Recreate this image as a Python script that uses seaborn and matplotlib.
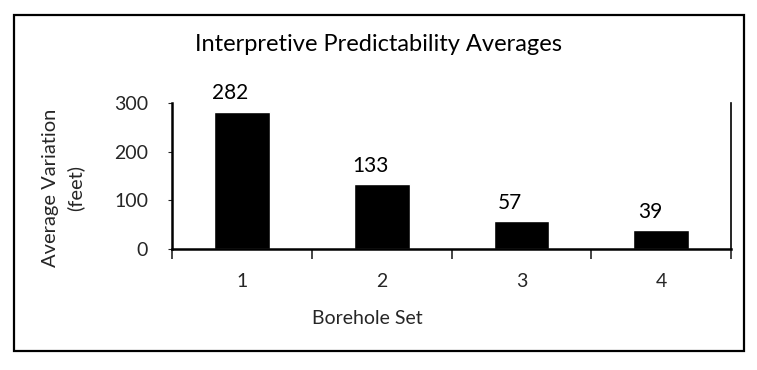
import matplotlib
matplotlib.use("Agg")
import matplotlib.pyplot as plt
import seaborn as sns
import pandas as pd
from matplotlib.patches import Rectangle
from matplotlib.ticker import FixedLocator

# Data
borehole_sets = ["1", "2", "3", "4"]
avg_variation = [282, 133, 57, 39]
y_ticks = [0, 100, 200, 300]

sns.set_theme(style="white")
plt.rcParams["font.family"] = ["Lato", "DejaVu Sans"]

df = pd.DataFrame({"set": borehole_sets, "variation": avg_variation})

fig = plt.figure(figsize=(7.57, 3.70), dpi=100)
ax = fig.add_axes([0.227, 0.327, 0.739, 0.395])

sns.barplot(data=df, x="set", y="variation", color="black", width=0.4,
            saturation=1, ax=ax)

ax.set_ylim(0, 300)
ax.set_xlim(-0.5, len(borehole_sets) - 0.5)
ax.set_yticks(y_ticks)
ax.set_yticklabels([str(t) for t in y_ticks], fontsize=14)
ax.tick_params(axis="y", length=3, width=0.8, direction="out", pad=14, left=True)

# category labels centered, tick marks on the category boundaries
ax.tick_params(axis="x", which="major", length=0, pad=17, labelsize=14)
ax.xaxis.set_minor_locator(FixedLocator([-0.5, 0.5, 1.5, 2.5, 3.5]))
ax.tick_params(axis="x", which="minor", length=7, width=1.2, direction="out",
               bottom=True)

for side in ["left", "bottom", "right"]:
    ax.spines[side].set_visible(True)
    ax.spines[side].set_color("black")
ax.spines["left"].set_linewidth(1.8)
ax.spines["bottom"].set_linewidth(1.8)
ax.spines["right"].set_linewidth(1.2)
ax.spines["top"].set_visible(False)

# value labels sit slightly left of each bar's centre
for i, v in enumerate(avg_variation):
    ax.annotate(str(v), xy=(i - 0.08, v), xytext=(0, 6),
                textcoords="offset points", ha="center", va="bottom",
                fontsize=15, color="black")

ax.set_xlabel("Borehole Set", fontsize=14)
ax.xaxis.set_label_coords(0.35, -0.42)
ax.set_ylabel("Average Variation\n(feet)", fontsize=14.5, linespacing=1.5)
ax.yaxis.label.set_verticalalignment("center")
ax.yaxis.set_label_coords(-0.195, 0.42)

fig.text(0.5, 0.88, "Interpretive Predictability Averages", ha="center",
         va="center", fontsize=17, color="black")

# outer frame around the chart
fig.patches.append(Rectangle((14 / 757, 1 - 351 / 370), 730 / 757, 336 / 370,
                             transform=fig.transFigure, fill=False,
                             edgecolor="black", linewidth=1.6))

fig.savefig("out.png", dpi=100, facecolor="white")
